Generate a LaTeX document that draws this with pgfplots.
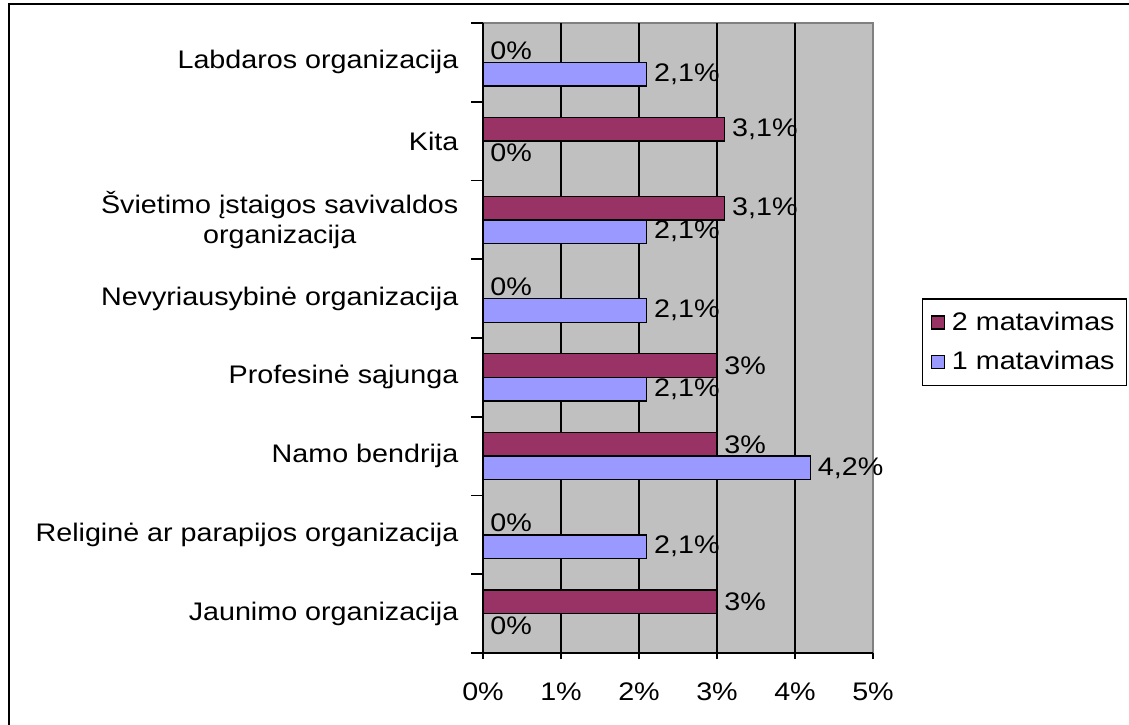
\documentclass[border=0pt]{standalone}
\usepackage{pgfplots}
\pgfplotsset{compat=1.18}
\usepackage{fontspec}
\setmainfont{Liberation Sans}[FakeStretch=1.13]

\definecolor{silverbg}{HTML}{C0C0C0}
\definecolor{plumbar}{HTML}{993366}
\definecolor{lilacbar}{HTML}{9999FF}
\definecolor{frameg}{HTML}{808080}

\begin{document}
\begin{tikzpicture}[font=\fontsize{12.7}{15.2}\selectfont]
\useasboundingbox (-241.5pt,-35.5pt) rectangle (323pt,326.5pt);
\draw[line width=1pt] (-237pt,-60pt) -- (-237pt,324.25pt) -- (340pt,324.25pt);
\begin{axis}[
    scale only axis,
    width=195pt, height=315pt,
    xbar, bar width=0.3,
    xmin=0, xmax=5,
    ymin=-0.5, ymax=7.5,
    clip=false,
    axis x line*=bottom,
    axis y line*=left,
    axis line style={black, line width=0.8pt},
    axis background/.style={fill=silverbg, draw=frameg, line width=1pt},
    tick align=outside,
    tick style={black, line width=0.8pt},
    xtick={0,1,2,3,4,5},
    xticklabels={0\%,1\%,2\%,3\%,4\%,5\%},
    major x tick style={/pgfplots/major tick length=3pt},
    extra x ticks={1,2,3,4},
    extra x tick labels={},
    extra x tick style={grid=major, major grid style={black, line width=1pt}},
    xticklabel style={yshift=-7pt},
    ytick={0,1,2,3,4,5,6,7},
    major y tick style={/pgfplots/major tick length=0pt},
    minor ytick={-0.5,0.5,1.5,2.5,3.5,4.5,5.5,6.5,7.5},
    minor tick length=6pt,
    yticklabels={
        Jaunimo organizacija,
        Religinė ar parapijos organizacija,
        Namo bendrija,
        Profesinė sąjunga,
        Nevyriausybinė organizacija,
        {Švietimo įstaigos savivaldos\\organizacija},
        Kita,
        Labdaros organizacija},
    yticklabel style={align=center, xshift=-4.5pt},
    nodes near coords={\pgfmathprintnumber[assume math mode=true,use comma]{\pgfplotspointmeta}\%},
    every node near coord/.append style={font=\fontsize{12.7}{15.2}\selectfont},
    legend style={at={(1.1256,0.5635)}, anchor=north west, draw=black,
        line width=0.75pt, fill=white, inner xsep=4pt, inner ysep=4.5pt,
        row sep=5pt, font=\fontsize{12.7}{15.2}\selectfont,
        /tikz/every odd column/.append style={column sep=1.5pt}},
    legend cell align=left,
    legend image code/.code={\draw[#1, draw=black, line width=0.6pt] (0pt,-3.25pt) rectangle (6.5pt,3.25pt);},
]
% 2 matavimas
\addplot[fill=plumbar, draw=black, line width=0.7pt, bar shift=0.15] coordinates {
    (3,0) (0,1) (3,2) (3,3) (0,4) (3.1,5) (3.1,6) (0,7)
};
\addlegendentry{2 matavimas}
% 1 matavimas
\addplot[fill=lilacbar, draw=black, line width=0.7pt, bar shift=-0.15] coordinates {
    (0,0) (2.1,1) (4.2,2) (2.1,3) (2.1,4) (2.1,5) (0,6) (2.1,7)
};
\addlegendentry{1 matavimas}
\end{axis}
\end{tikzpicture}
\end{document}
